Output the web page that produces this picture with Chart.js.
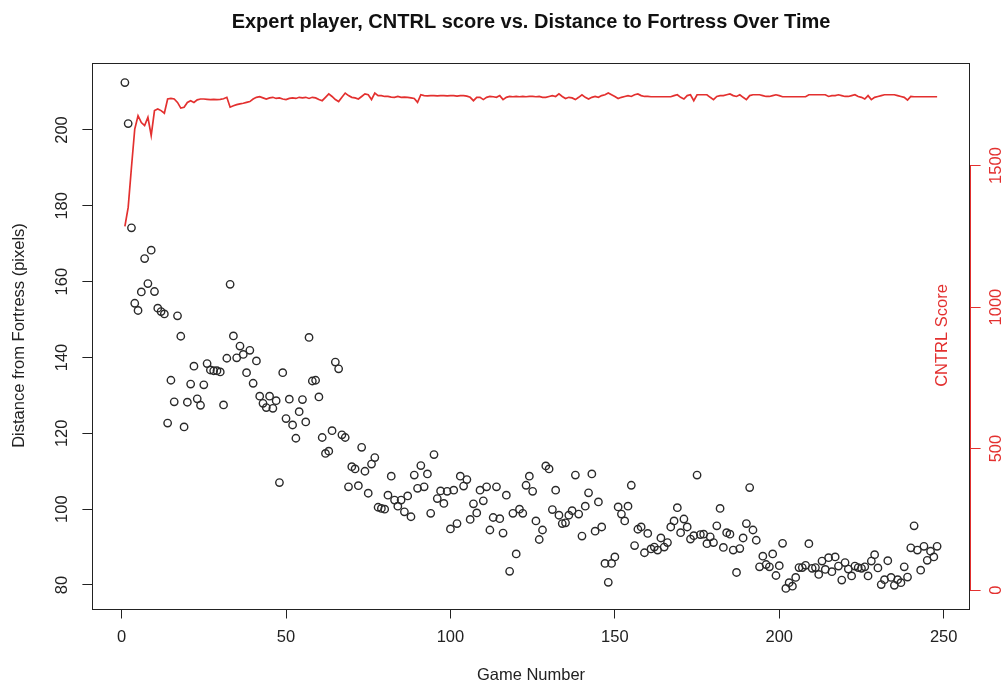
<!DOCTYPE html>
<html>
<head>
<meta charset="utf-8">
<title>Expert player, CNTRL score vs. Distance to Fortress Over Time</title>
<script src="https://cdn.jsdelivr.net/npm/chart.js@4.4.1/dist/chart.umd.min.js"></script>
<style>
  html, body { margin: 0; padding: 0; background: #fff; }
  #wrap { width: 1002px; height: 685px; }
</style>
</head>
<body>
<div id="wrap"><canvas id="chart" width="1002" height="685"></canvas></div>
<script>
// distance from fortress (pixels), one value per game
var distance = [
  212.5, 201.7, 174.2, 154.3, 152.4, 157.3, 166.1, 159.5, 168.3, 157.4,
  153, 152.1, 151.5, 122.7, 134, 128.3, 151, 145.6, 121.7, 128.2,
  133, 137.7, 129.1, 127.4, 132.8, 138.4, 136.7, 136.5, 136.5, 136.2,
  127.5, 139.8, 159.3, 145.7, 139.9, 143, 140.8, 136, 141.9, 133.2,
  139.1, 129.8, 127.9, 126.8, 129.8, 126.6, 128.6, 107, 136, 123.9,
  129, 122.2, 118.7, 125.7, 128.9, 123, 145.3, 133.8, 134, 129.6,
  118.9, 114.7, 115.3, 120.7, 138.8, 137, 119.6, 118.9, 105.9, 111.2,
  110.6, 106.2, 116.3, 110, 104.2, 111.9, 113.6, 100.5, 100.2, 100,
  103.7, 108.7, 102.4, 100.8, 102.4, 99.3, 103.5, 98, 109, 105.5,
  111.5, 105.9, 109.3, 98.9, 114.4, 102.8, 104.8, 101.5, 104.7, 94.8,
  105, 96.2, 108.7, 106.1, 107.8, 97.3, 101.4, 99, 105, 102.2,
  105.9, 94.5, 97.8, 105.9, 97.5, 93.7, 103.7, 83.6, 98.9, 88.2,
  100, 98.9, 106.3, 108.7, 104.7, 96.9, 92, 94.5, 111.4, 110.6,
  99.9, 105, 98.4, 96.2, 96.4, 98.4, 99.6, 109, 98.7, 92.9,
  100.8, 104.3, 109.3, 94.2, 101.9, 95.3, 85.7, 80.7, 85.7, 87.4,
  100.6, 98.7, 96.9, 100.8, 106.3, 90.4, 94.7, 95.3, 88.5, 93.6,
  89.5, 90, 89.2, 92.4, 90, 91.2, 95.3, 96.9, 100.4, 93.8,
  97.4, 95.3, 92.1, 93, 109, 93.3, 93.4, 90.9, 92.7, 91.2,
  95.6, 100.2, 89.9, 93.8, 93.4, 89.2, 83.3, 89.6, 92.4, 96.2,
  105.7, 94.5, 91.8, 84.8, 87.6, 85.4, 84.8, 88.2, 82.5, 85.1,
  91, 79.1, 80.6, 79.7, 82, 84.6, 84.6, 85.2, 90.9, 84.4,
  84.6, 82.8, 86.3, 84.1, 87.2, 83.5, 87.4, 85, 81.3, 85.9,
  84.2, 82.4, 85, 84.6, 84.4, 84.8, 82.4, 86.3, 88, 84.5,
  80.1, 81.4, 86.4, 82, 79.9, 81.4, 80.6, 84.8, 82.1, 89.8,
  95.6, 89.2, 83.9, 90.2, 86.5, 88.9, 87.4, 90.2
];
// CNTRL score per game
var cntrl = [
  1285, 1352, 1494, 1629, 1676, 1652, 1641, 1670, 1606, 1694,
  1700, 1694, 1685, 1735, 1737, 1735, 1723, 1703, 1706, 1723,
  1729, 1723, 1732, 1735, 1735, 1734, 1733, 1734, 1733, 1734,
  1736, 1741, 1706, 1711, 1715, 1718, 1720, 1723, 1726, 1735,
  1741, 1743, 1739, 1735, 1739, 1741, 1737, 1739, 1735, 1733,
  1737, 1739, 1737, 1741, 1739, 1741, 1737, 1741, 1739, 1733,
  1729, 1741, 1753, 1744, 1733, 1726, 1741, 1756, 1747, 1741,
  1739, 1735, 1744, 1753, 1750, 1733, 1756, 1747, 1747, 1744,
  1744, 1742, 1741, 1744, 1741, 1742, 1741, 1739, 1737, 1723,
  1750, 1747, 1746, 1747, 1747, 1746, 1747, 1747, 1746, 1747,
  1747, 1745, 1747, 1747, 1745, 1741, 1729, 1741, 1741, 1733,
  1741, 1744, 1743, 1741, 1747, 1733, 1741, 1744, 1743, 1744,
  1743, 1744, 1743, 1744, 1744, 1743, 1744, 1741, 1741, 1744,
  1747, 1744, 1753, 1744, 1737, 1741, 1739, 1733, 1741, 1750,
  1741, 1735, 1741, 1744, 1741, 1747, 1750, 1756, 1750, 1744,
  1737, 1741, 1744, 1747, 1744, 1750, 1753, 1747, 1744, 1744,
  1743, 1743, 1743, 1743, 1743, 1743, 1743, 1747, 1750, 1741,
  1735, 1747, 1750, 1729, 1750, 1750, 1750, 1750, 1741, 1733,
  1744, 1747, 1747, 1750, 1753, 1747, 1744, 1750, 1741, 1733,
  1747, 1750, 1750, 1750, 1747, 1744, 1744, 1747, 1750, 1747,
  1743, 1743, 1743, 1743, 1743, 1743, 1743, 1743, 1750, 1750,
  1750, 1750, 1750, 1750, 1744, 1747, 1747, 1750, 1747, 1744,
  1744, 1747, 1750, 1744, 1741, 1735, 1747, 1733, 1741, 1744,
  1747, 1750, 1750, 1750, 1750, 1747, 1744, 1741, 1731, 1744,
  1743, 1743, 1743, 1743, 1743, 1743, 1743, 1743
];
var games = distance.map(function (d, i) { return i + 1; });

var gameTicks = [0, 50, 100, 150, 200, 250];
var distanceTicks = [80, 100, 120, 140, 160, 180, 200];
var cntrlTicks = [0, 500, 1000, 1500];

var RED = "#e3302f";
var INK = "#222";
var FONT = "'Liberation Sans', Arial, Helvetica, sans-serif";

function useTicks(list) {
  return function (scale) {
    scale.ticks = list.map(function (v) { return { value: v }; });
  };
}

// R-style frame: box, short red axis line, rotated y labels, titles
var rFrame = {
  id: "rFrame",
  afterDraw: function (chart) {
    var ctx = chart.ctx;
    var a = chart.chartArea;
    var y = chart.scales.y;
    var y2 = chart.scales.y2;
    ctx.save();
    ctx.strokeStyle = INK;
    ctx.lineWidth = 1;
    ctx.strokeRect(Math.round(a.left) + 0.5, Math.round(a.top) + 0.5,
      Math.round(a.right - a.left), Math.round(a.bottom - a.top));

    ctx.strokeStyle = RED;
    ctx.beginPath();
    ctx.moveTo(Math.round(a.right) + 0.5, y2.getPixelForValue(cntrlTicks[0]));
    ctx.lineTo(Math.round(a.right) + 0.5, y2.getPixelForValue(cntrlTicks[cntrlTicks.length - 1]));
    ctx.stroke();

    ctx.font = "16.5px " + FONT;
    ctx.textAlign = "center";
    ctx.textBaseline = "middle";
    ctx.fillStyle = INK;
    y.ticks.forEach(function (t) {
      ctx.save();
      ctx.translate(a.left - 30, y.getPixelForValue(t.value));
      ctx.rotate(-Math.PI / 2);
      ctx.fillText(String(t.value), 0, 0);
      ctx.restore();
    });
    ctx.fillStyle = RED;
    y2.ticks.forEach(function (t) {
      ctx.save();
      ctx.translate(a.right + 27, y2.getPixelForValue(t.value));
      ctx.rotate(-Math.PI / 2);
      ctx.fillText(String(t.value), 0, 0);
      ctx.restore();
    });

    ctx.save();
    ctx.translate(a.right - 27, (a.top + a.bottom) / 2);
    ctx.rotate(-Math.PI / 2);
    ctx.fillText("CNTRL Score", 0, 0);
    ctx.restore();

    ctx.fillStyle = "#111";
    ctx.font = "bold 20px " + FONT;
    ctx.fillText("Expert player, CNTRL score vs. Distance to Fortress Over Time",
      (a.left + a.right) / 2, 22);
    ctx.restore();
  }
};

new Chart(document.getElementById("chart"), {
  type: "scatter",
  data: {
    datasets: [
      {
        label: "CNTRL Score",
        type: "line",
        data: games.map(function (g, i) { return { x: g, y: cntrl[i] }; }),
        yAxisID: "y2",
        borderColor: RED,
        borderWidth: 1.7,
        pointRadius: 0,
        tension: 0,
        fill: false
      },
      {
        label: "Distance",
        data: games.map(function (g, i) { return { x: g, y: distance[i] }; }),
        yAxisID: "y",
        pointStyle: "circle",
        pointRadius: 3.7,
        pointBorderWidth: 1.4,
        borderColor: "#2a2a2a",
        backgroundColor: "rgba(0,0,0,0)"
      }
    ]
  },
  options: {
    responsive: false,
    devicePixelRatio: 1,
    animation: false,
    layout: { padding: { top: 62.5, left: 0, right: 0, bottom: 0 } },
    plugins: {
      legend: { display: false },
      tooltip: { enabled: false },
      title: { display: false }
    },
    scales: {
      x: {
        type: "linear",
        min: -8.88,
        max: 257.88,
        afterBuildTicks: useTicks(gameTicks),
        afterFit: function (s) { s.height = 76.5; },
        border: { display: false },
        grid: { drawOnChartArea: false, tickLength: 10, color: INK, tickColor: INK },
        ticks: { color: INK, font: { family: FONT, size: 16.5 }, padding: 9, maxRotation: 0, autoSkip: false },
        title: { display: true, text: "Game Number", color: INK, font: { family: FONT, size: 16.5 }, padding: { top: 0, bottom: 0 } }
      },
      y: {
        type: "linear",
        position: "left",
        min: 73.8,
        max: 217.8,
        afterBuildTicks: useTicks(distanceTicks),
        afterFit: function (s) { s.width = 92.4; },
        border: { display: false },
        grid: { drawOnChartArea: false, tickLength: 10, color: INK, tickColor: INK },
        ticks: { display: false },
        title: { display: true, text: "Distance from Fortress (pixels)", color: INK, font: { family: FONT, size: 16.5 }, padding: { top: 10, bottom: 0 } }
      },
      y2: {
        type: "linear",
        position: "right",
        min: -65,
        max: 1864,
        afterBuildTicks: useTicks(cntrlTicks),
        afterFit: function (s) { s.width = 32.4; },
        border: { display: false },
        grid: { drawOnChartArea: false, tickLength: 11, color: RED, tickColor: RED },
        ticks: { display: false }
      }
    }
  },
  plugins: [rFrame]
});
</script>
</body>
</html>
